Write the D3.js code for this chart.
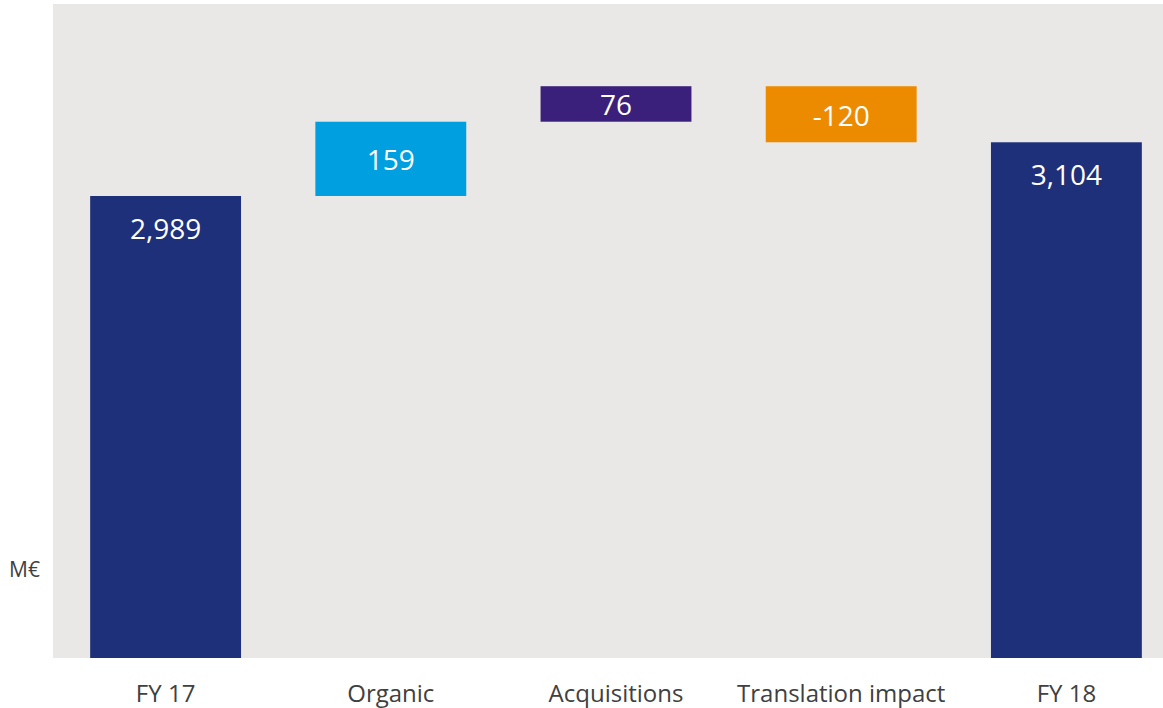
<!DOCTYPE html>
<html>
<head>
<meta charset="utf-8">
<script src="https://cdn.jsdelivr.net/npm/d3@7"></script>
<style>
  body { margin: 0; background: #fff; }
  svg { display: block; font-family: "Open Sans", sans-serif; }
</style>
</head>
<body>
<div id="chart"></div>
<script>
// chart data
var categories = ["FY 17", "Organic", "Acquisitions", "Translation impact", "FY 18"];
var values = [2989, 159, 76, -120, 3104];
var kinds = ["total", "delta", "delta", "delta", "total"];
var yDomain = [2000, 3400];
var unitLabel = "M€";

var colors = {
  "FY 17": "#1f307a",
  "Organic": "#009fe0",
  "Acquisitions": "#3b207b",
  "Translation impact": "#ed8b00",
  "FY 18": "#1f307a"
};

var width = 1163, height = 708;
var plot = { left: 53, top: 4, bottom: 658 };

var svg = d3.select("#chart")
  .append("svg")
  .attr("width", width)
  .attr("height", height);

// build waterfall start/end from the running total
var running = 0;
var data = categories.map(function (c, i) {
  var d = { name: c, value: values[i], kind: kinds[i] };
  if (d.kind === "total") {
    d.start = yDomain[0];
    d.end = d.value;
    running = d.value;
  } else {
    d.start = running;
    d.end = running + d.value;
    running = d.end;
  }
  return d;
});

// set the ranges (the last band runs off the right edge, as in the original)
var x = d3.scaleBand()
  .domain(categories)
  .range([plot.left, 1179])
  .paddingInner(0.33)
  .paddingOuter(0.165);

var y = d3.scaleLinear()
  .domain(yDomain)
  .range([plot.bottom, plot.top]);

// plot background
svg.append("rect")
  .attr("x", plot.left)
  .attr("y", plot.top)
  .attr("width", width - plot.left)
  .attr("height", plot.bottom - plot.top)
  .attr("fill", "#e9e8e6");

// bars
svg.selectAll(".bar")
  .data(data)
  .enter().append("rect")
  .attr("class", "bar")
  .attr("x", function (d) { return x(d.name); })
  .attr("width", x.bandwidth())
  .attr("y", function (d) { return y(Math.max(d.start, d.end)); })
  .attr("height", function (d) { return Math.abs(y(d.start) - y(d.end)); })
  .attr("fill", function (d) { return colors[d.name]; });

// value labels (plain hyphen for negatives, like the original)
var fmt = function (v) { return d3.format(",")(v).replace("\u2212", "-"); };
svg.selectAll(".val")
  .data(data)
  .enter().append("text")
  .attr("class", "val")
  .attr("x", function (d) { return x(d.name) + x.bandwidth() / 2; })
  .attr("y", function (d) {
    var top = y(Math.max(d.start, d.end));
    if (d.kind === "total") return top + 43;
    var mid = (y(d.start) + y(d.end)) / 2;
    return mid + 11.5;
  })
  .attr("text-anchor", "middle")
  .attr("font-size", 28)
  .attr("fill", "#ffffff")
  .text(function (d) { return fmt(d.value); });

// x axis
var xAxis = svg.append("g")
  .attr("transform", "translate(0," + plot.bottom + ")")
  .call(d3.axisBottom(x).tickSize(0));
xAxis.select(".domain").remove();
xAxis.selectAll(".tick text")
  .attr("y", 44)
  .attr("dy", null)
  .attr("font-family", "Open Sans, sans-serif")
  .attr("font-size", 24)
  .attr("fill", "#404040");

// unit label
svg.append("text")
  .attr("x", 9)
  .attr("y", 577)
  .attr("font-size", 21)
  .attr("fill", "#404040")
  .text(unitLabel);
</script>
</body>
</html>
